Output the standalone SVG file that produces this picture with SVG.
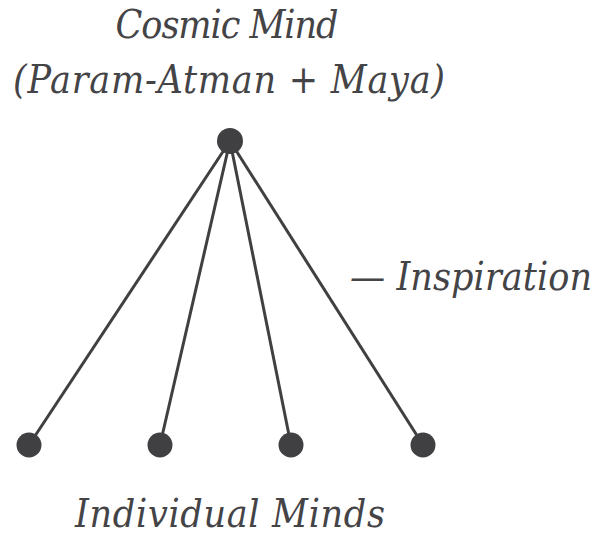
<svg xmlns="http://www.w3.org/2000/svg" width="596" height="536" viewBox="0 0 596 536">
<style>
text{font-family:'DejaVu Serif','Liberation Serif',serif;font-style:italic;font-stretch:condensed;font-size:39px;fill:#444447}
.n{fill:#404043}
.e{stroke:#404043;stroke-width:3;fill:none}
</style>
<rect width="596" height="536" fill="#fff"/>
<g id="edges">
<line class="e" x1="230" y1="141" x2="29" y2="445"/>
<line class="e" x1="230" y1="141" x2="160" y2="445"/>
<line class="e" x1="230" y1="141" x2="291" y2="445"/>
<line class="e" x1="230" y1="141" x2="423" y2="445"/>
</g>
<g id="cosmic"><circle class="n" cx="230" cy="141" r="13"/>
<text x="227" y="38" text-anchor="middle" textLength="223">Cosmic Mind</text>
<text x="229" y="93" text-anchor="middle" textLength="432">(Param-Atman + Maya)</text></g>
<g id="m1"><circle class="n" cx="29" cy="445" r="12.5"/></g>
<g id="m2"><circle class="n" cx="160" cy="445" r="12.5"/></g>
<g id="m3"><circle class="n" cx="291" cy="445" r="12.5"/></g>
<g id="m4"><circle class="n" cx="423" cy="445" r="12.5"/></g>
<g id="label-inspiration"><text x="350" y="290" textLength="242">— Inspiration</text></g>
<g id="label-individual"><text x="230" y="527" text-anchor="middle" textLength="310">Individual Minds</text></g>
</svg>
